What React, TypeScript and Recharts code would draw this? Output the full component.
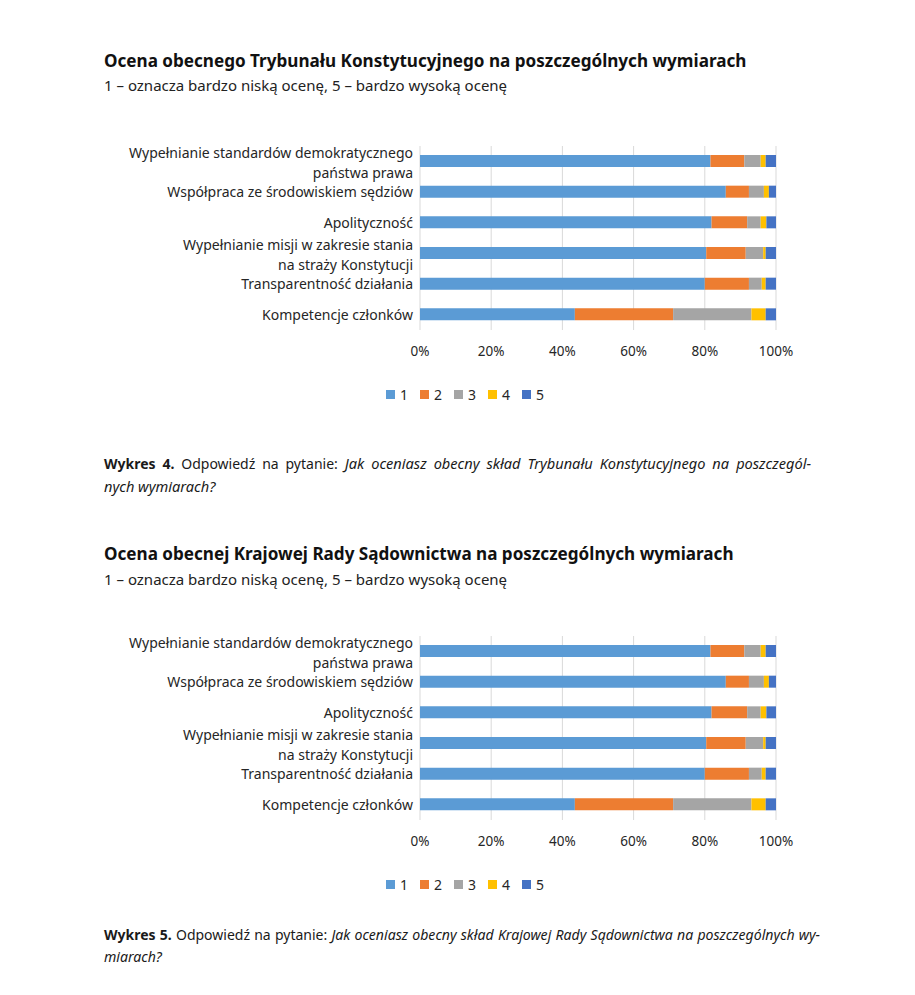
import React from 'react';
import { BarChart, Bar, XAxis, YAxis, CartesianGrid, Legend } from 'recharts';

const FONT = '"Noto Sans", "Open Sans", "DejaVu Sans", sans-serif';

// ---- data ----
const categories = [
  'Wypełnianie standardów demokratycznego\npaństwa prawa',
  'Współpraca ze środowiskiem sędziów',
  'Apolityczność',
  'Wypełnianie misji w zakresie stania\nna straży Konstytucji',
  'Transparentność działania',
  'Kompetencje członków',
];
const seriesNames = ['1', '2', '3', '4', '5'];
const seriesColors = ['#5B9BD5', '#ED7D31', '#A5A5A5', '#FFC000', '#4472C4'];
const xTicks = [0, 0.2, 0.4, 0.6, 0.8, 1];

// Trybunał Konstytucyjny (percent per rating)
const tk1 = [81.6, 85.9, 81.9, 80.4, 80.0, 43.5];
const tk2 = [9.5, 6.5, 10.0, 11.1, 12.4, 27.6];
const tk3 = [4.6, 4.2, 3.8, 4.9, 3.6, 22.0];
const tk4 = [1.4, 1.4, 1.6, 0.7, 1.1, 4.0];
const tk5 = [2.9, 2.0, 2.7, 2.9, 2.9, 2.9];

// Krajowa Rada Sądownictwa (percent per rating)
const krs1 = [81.6, 85.9, 81.9, 80.4, 80.0, 43.5];
const krs2 = [9.5, 6.5, 10.0, 11.1, 12.4, 27.6];
const krs3 = [4.6, 4.2, 3.8, 4.9, 3.6, 22.0];
const krs4 = [1.4, 1.4, 1.6, 0.7, 1.1, 4.0];
const krs5 = [2.9, 2.0, 2.7, 2.9, 2.9, 2.9];

const buildData = (series: number[][]) =>
  categories.map((name, i) => {
    const row: any = { name };
    seriesNames.forEach((s, k) => {
      row['r' + s] = series[k][i];
    });
    return row;
  });

const tkData = buildData([tk1, tk2, tk3, tk4, tk5]);
const krsData = buildData([krs1, krs2, krs3, krs4, krs5]);

const LABEL_COLOR = '#262626';

const CategoryTick = (props: any) => {
  const { x, y, payload } = props;
  const lines = String(payload.value).split('\n');
  const common = {
    textAnchor: 'end' as const,
    fontFamily: FONT,
    fontSize: 14,
    fill: LABEL_COLOR,
  };
  if (lines.length === 1) {
    return (
      <text x={x} y={y} dy="0.36em" {...common}>
        {lines[0]}
      </text>
    );
  }
  return (
    <text x={x} y={y} {...common}>
      <tspan x={x} dy={-3}>
        {lines[0]}
      </tspan>
      <tspan x={x} dy={19.5}>
        {lines[1]}
      </tspan>
    </text>
  );
};

const LegendContent = (props: any) => {
  const payload = props.payload || [];
  return (
    <div style={{ display: 'flex', alignItems: 'center', fontFamily: FONT, fontSize: 14, color: LABEL_COLOR }}>
      {payload.map((p: any, i: number) => (
        <div key={i} style={{ display: 'flex', alignItems: 'center', marginRight: 12 }}>
          <span style={{ display: 'inline-block', width: 9, height: 9, background: p.color, marginRight: 5 }} />
          <span>{p.value}</span>
        </div>
      ))}
    </div>
  );
};

const Chart = ({ data, top }: { data: any[]; top: number }) => (
  <div style={{ position: 'absolute', left: 0, top }}>
    <BarChart
      width={915}
      height={290}
      data={data}
      layout="vertical"
      stackOffset="expand"
      margin={{ top: 26, right: 139, bottom: 50, left: 0 }}
      barSize={12}
    >
      <CartesianGrid horizontal={false} vertical stroke="#d9d9d9" />
      <XAxis
        type="number"
        domain={[0, 1]}
        ticks={xTicks}
        tickFormatter={(v: number) => `${Math.round(v * 100)}%`}
        axisLine={false}
        tickLine={false}
        tickMargin={10}
        height={30}
        tick={{ fontFamily: FONT, fontSize: 13.5, fill: LABEL_COLOR }}
      />
      <YAxis
        type="category"
        dataKey="name"
        width={420}
        axisLine={false}
        tickLine={false}
        tickMargin={1}
        interval={0}
        tick={<CategoryTick />}
      />
      {seriesNames.map((s, i) => (
        <Bar
          key={s}
          dataKey={'r' + s}
          name={s}
          stackId="a"
          fill={seriesColors[i]}
          isAnimationActive={false}
        />
      ))}
      <Legend
        layout="horizontal"
        verticalAlign="middle"
        align="center"
        content={<LegendContent />}
        wrapperStyle={{ left: 386, top: 265, width: 220, height: 18 }}
      />
    </BarChart>
  </div>
);

const textBase: React.CSSProperties = {
  position: 'absolute',
  left: 104,
  fontFamily: FONT,
  color: '#111',
  whiteSpace: 'nowrap',
};

const Title = ({ top, children }: any) => (
  <div style={{ ...textBase, top, fontSize: 17.1, fontWeight: 700, lineHeight: '24px' }}>{children}</div>
);
const Subtitle = ({ top, children }: any) => (
  <div style={{ ...textBase, top, fontSize: 15, lineHeight: '20px', color: '#222' }}>{children}</div>
);
const CaptionLine = ({ top, width, justify, children }: any) => (
  <div
    style={{
      ...textBase,
      top,
      width,
      fontSize: 14,
      lineHeight: '22px',
      textAlign: justify ? 'justify' : 'left',
      textAlignLast: justify ? 'justify' : 'left',
      whiteSpace: 'normal',
      color: '#1a1a1a',
    }}
  >
    {children}
  </div>
);

const It = ({ size, children }: any) => <i style={{ fontSize: size }}>{children}</i>;

export default function App() {
  return (
    <div style={{ position: 'absolute', left: 0, top: 0, width: 915, height: 995, background: '#fff', overflow: 'hidden' }}>
      <Title top={49}>Ocena obecnego Trybunału Konstytucyjnego na poszczególnych wymiarach</Title>
      <Subtitle top={75}>1 – oznacza bardzo niską ocenę, 5 – bardzo wysoką ocenę</Subtitle>
      <Chart data={tkData} top={120} />
      <CaptionLine top={452} width={707} justify>
        <b>Wykres 4.</b> Odpowiedź na pytanie: <It size={14.6}>Jak oceniasz obecny skład Trybunału Konstytucyjnego na poszczegól-</It>
      </CaptionLine>
      <CaptionLine top={475} width={707}>
        <It size={14.6}>nych wymiarach?</It>
      </CaptionLine>

      <Title top={542}>Ocena obecnej Krajowej Rady Sądownictwa na poszczególnych wymiarach</Title>
      <Subtitle top={569}>1 – oznacza bardzo niską ocenę, 5 – bardzo wysoką ocenę</Subtitle>
      <Chart data={krsData} top={610} />
      <CaptionLine top={924} width={716} justify>
        <b>Wykres 5.</b> Odpowiedź na pytanie: <It size={14.1}>Jak oceniasz obecny skład Krajowej Rady Sądownictwa na poszczególnych wy-</It>
      </CaptionLine>
      <CaptionLine top={946} width={716}>
        <It size={14.1}>miarach?</It>
      </CaptionLine>
    </div>
  );
}
